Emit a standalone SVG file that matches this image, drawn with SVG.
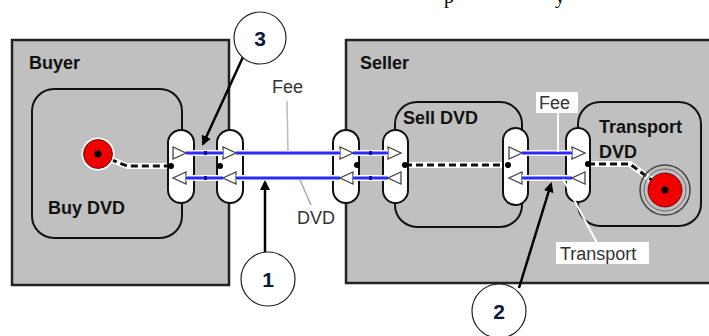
<svg xmlns="http://www.w3.org/2000/svg" width="709" height="336" viewBox="0 0 709 336">
<style>
.box{fill:#c0c0c0;stroke:#222;stroke-width:2.5}
.part{fill:none;stroke:#111;stroke-width:2}
.pill{fill:#fff;stroke:#111;stroke-width:2}
.tri{fill:#fff;stroke:#444;stroke-width:1.3}
.bl{font-family:"Liberation Sans",Arial,sans-serif;font-weight:bold;font-size:18px;fill:#111}
.lb{font-family:"Liberation Sans",Arial,sans-serif;font-size:18px;fill:#333}
.num{font-family:"Liberation Sans",Arial,sans-serif;font-weight:bold;font-size:21px;fill:#0c1a3a;text-anchor:middle}
.halo{fill:none;stroke:#fff;stroke-width:6}
.dash{fill:none;stroke:#111;stroke-width:3;stroke-dasharray:7,4}
.bhalo{stroke:#fff;stroke-width:6}
.blue{stroke:#2a2aff;stroke-width:3}
.tick{fill:#10108a}
.dot{fill:#000}
.call{fill:#fff;stroke:#222;stroke-width:1.2}
.arr{stroke:#000;stroke-width:2.5;fill:none}
</style>
<defs>
<marker id="ah" markerWidth="10" markerHeight="10" refX="8" refY="5" orient="auto" markerUnits="userSpaceOnUse">
<path d="M0,0 L10,5 L0,10 z" fill="#000"/>
</marker>
</defs>
<rect width="709" height="336" fill="#fff"/>
<text x="444" y="3" font-family="Liberation Serif,serif" font-size="20" fill="#000">p</text>
<text x="555" y="3" font-family="Liberation Serif,serif" font-size="20" fill="#000">y</text>

<g id="buyer">
<rect class="box" x="12" y="40" width="217" height="245"/>
<text class="bl" x="29" y="69">Buyer</text>
</g>
<g id="seller">
<rect class="box" x="346" y="40" width="380" height="243"/>
<text class="bl" x="360" y="69">Seller</text>
</g>
<g id="buydvd">
<rect class="part" x="32" y="89" width="150" height="149" rx="22"/>
<text class="bl" x="48" y="214">Buy DVD</text>
</g>
<g id="selldvd">
<rect class="part" x="395" y="102" width="127" height="125" rx="22"/>
<text class="bl" x="403" y="124">Sell DVD</text>
</g>
<g id="transportdvd">
<rect class="part" x="578" y="102" width="123" height="124" rx="22"/>
<text class="bl" x="599" y="133">Transport</text>
<text class="bl" x="599" y="158">DVD</text>
</g>

<g id="connectors">
<polyline class="halo" points="100,155 127,166 171,166"/>
<polyline class="dash" points="100,155 127,166 171,166"/>
<polyline class="halo" points="405,165 508,165"/>
<polyline class="dash" points="405,165 508,165"/>
<polyline class="halo" points="588,164 630,164 665,190"/>
<polyline class="dash" points="588,164 630,164 665,190"/>
</g>

<g id="endpoints">
<circle cx="98" cy="154" r="16.5" fill="#fff"/>
<circle cx="98" cy="154" r="14.5" fill="#f00000" stroke="#500" stroke-width="0.8"/>
<circle class="dot" cx="98" cy="154" r="3.5"/>
<circle cx="665" cy="190" r="25" fill="none" stroke="#444" stroke-width="1.5"/>
<circle cx="665" cy="190" r="21" fill="none" stroke="#666" stroke-width="1"/>
<circle cx="665" cy="190" r="17" fill="#f00000" stroke="#500" stroke-width="0.8"/>
<circle class="dot" cx="665" cy="190" r="3.5"/>
</g>

<g id="ports">
<rect class="pill" x="168" y="130" width="26" height="73" rx="13"/>
<rect class="pill" x="217" y="130" width="26" height="73" rx="13"/>
<rect class="pill" x="333" y="130" width="26" height="73" rx="13"/>
<rect class="pill" x="383" y="130" width="25" height="73" rx="12.5"/>
<rect class="pill" x="503" y="128" width="25" height="77" rx="12.5"/>
<rect class="pill" x="566" y="128" width="24" height="74" rx="12"/>
<g id="triangles">
<path class="tri" d="M173,147 L173,159 L186,153 Z"/>
<path class="tri" d="M223,147 L223,159 L236,153 Z"/>
<path class="tri" d="M340,147 L340,159 L353,153 Z"/>
<path class="tri" d="M388,147 L388,159 L401,153 Z"/>
<path class="tri" d="M509,147 L509,159 L522,153 Z"/>
<path class="tri" d="M572,147 L572,159 L585,153 Z"/>
<path class="tri" d="M186,172 L186,184 L173,178 Z"/>
<path class="tri" d="M236,172 L236,184 L223,178 Z"/>
<path class="tri" d="M353,172 L353,184 L340,178 Z"/>
<path class="tri" d="M401,172 L401,184 L388,178 Z"/>
<path class="tri" d="M522,172 L522,184 L509,178 Z"/>
<path class="tri" d="M585,172 L585,184 L572,178 Z"/>
</g>
<circle class="dot" cx="171" cy="166" r="3"/>
<circle class="dot" cx="220" cy="166" r="3"/>
<circle class="dot" cx="357" cy="165" r="3"/>
<circle class="dot" cx="405" cy="165" r="3"/>
<circle class="dot" cx="508" cy="165" r="3"/>
<circle class="dot" cx="588" cy="164" r="3"/>
</g>

<g id="flows">
<g class="bhalo">
<line x1="186" y1="153" x2="223" y2="153"/><line x1="236" y1="153" x2="340" y2="153"/>
<line x1="353" y1="153" x2="388" y2="153"/><line x1="522" y1="153" x2="572" y2="153"/>
<line x1="186" y1="178" x2="223" y2="178"/><line x1="236" y1="178" x2="340" y2="178"/>
<line x1="353" y1="178" x2="388" y2="178"/><line x1="522" y1="178" x2="572" y2="178"/>
</g>
<g class="blue">
<line x1="186" y1="153" x2="223" y2="153"/><line x1="236" y1="153" x2="340" y2="153"/>
<line x1="353" y1="153" x2="388" y2="153"/><line x1="522" y1="153" x2="572" y2="153"/>
<line x1="186" y1="178" x2="223" y2="178"/><line x1="236" y1="178" x2="340" y2="178"/>
<line x1="353" y1="178" x2="388" y2="178"/><line x1="522" y1="178" x2="572" y2="178"/>
</g>
<rect class="tick" x="204" y="151" width="3" height="4"/>
<rect class="tick" x="204" y="176" width="3" height="4"/>
<rect class="tick" x="369" y="151" width="3" height="4"/>
<rect class="tick" x="369" y="176" width="3" height="4"/>
</g>

<g id="labels">
<line x1="287" y1="101" x2="288" y2="152" stroke="#bbb" stroke-width="1.5"/>
<text class="lb" x="272" y="93" fill="#444">Fee</text>
<line x1="300" y1="180" x2="311" y2="205" stroke="#aaa" stroke-width="1.5"/>
<text class="lb" x="297" y="224" fill="#444">DVD</text>
<line x1="558" y1="112" x2="558" y2="152" stroke="#fff" stroke-width="2"/>
<rect x="536" y="92" width="42" height="21" fill="#fff"/>
<text class="lb" x="539" y="109">Fee</text>
<line x1="563" y1="179" x2="597" y2="243" stroke="#fff" stroke-width="2"/>
<rect x="556" y="242" width="93" height="22" fill="#fff"/>
<text class="lb" x="560" y="260">Transport</text>
</g>

<g id="callout3">
<line class="arr" x1="243" y1="57" x2="203" y2="144" marker-end="url(#ah)"/>
<circle class="call" cx="260" cy="38" r="26"/>
<text class="num" x="260" y="46">3</text>
</g>
<g id="callout1">
<line class="arr" x1="265" y1="252" x2="265" y2="182" marker-end="url(#ah)"/>
<circle class="call" cx="268" cy="279" r="27"/>
<text class="num" x="268" y="287">1</text>
</g>
<g id="callout2">
<line class="arr" x1="519" y1="288" x2="551" y2="184" marker-end="url(#ah)"/>
<circle class="call" cx="499" cy="311" r="27"/>
<text class="num" x="499" y="319">2</text>
</g>
</svg>
